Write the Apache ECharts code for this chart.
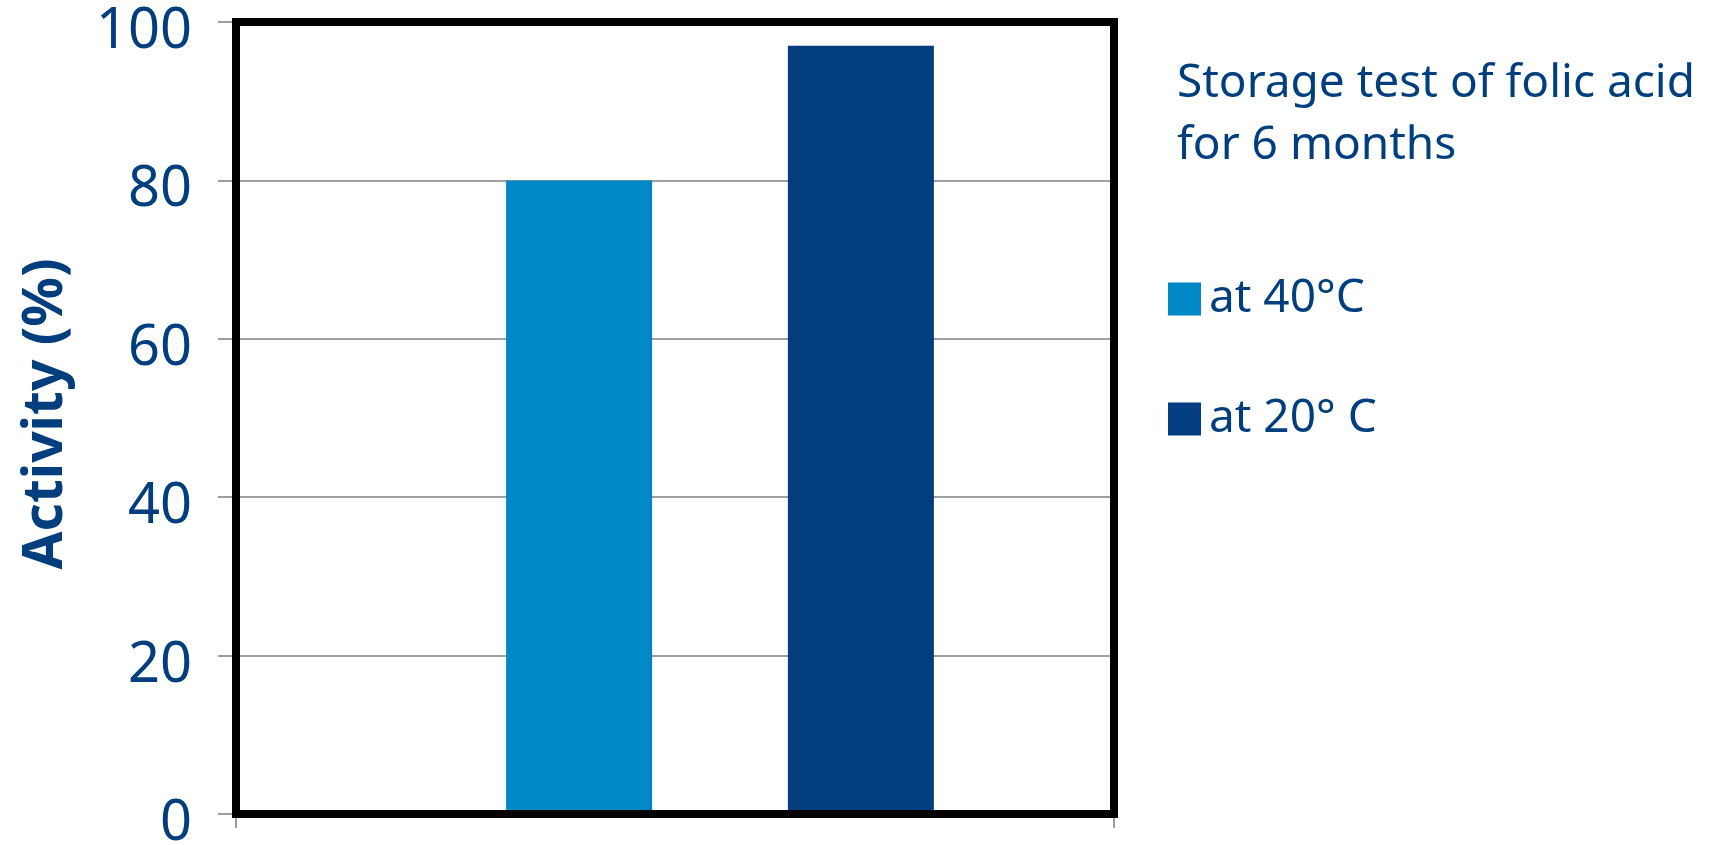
<!DOCTYPE html>
<html>
<head>
<meta charset="utf-8">
<script src="https://cdn.jsdelivr.net/npm/echarts@6/dist/echarts.min.js"></script>
<style>
  html, body { margin: 0; padding: 0; background: #ffffff; }
  #chart { width: 1712px; height: 845px; }
</style>
</head>
<body>
<div id="chart"></div>
<script>
// Folic acid activity after 6 months of storage
const categories = ['6 months'];
const seriesNames = ['at 40°C', 'at 20° C'];
const activity40 = [80];
const activity20 = [97];
const yTicks = { min: 0, max: 100, interval: 20 };
const titleLines = ['Storage test of folic acid', 'for 6 months'];

const textBlue = '#003E7E';
const lightBlue = '#0087C5';
const darkBlue = '#023D80';
const font = 'Noto Sans';

const chart = echarts.init(document.getElementById('chart'));

chart.setOption({
  backgroundColor: '#ffffff',
  animation: false,
  title: {
    text: titleLines.join('\n'),
    left: 1177,
    top: 53,
    padding: 0,
    textStyle: {
      color: textBlue,
      fontFamily: font,
      fontWeight: 'normal',
      fontSize: 46,
      lineHeight: 62
    }
  },
  legend: {
    orient: 'vertical',
    left: 1168,
    top: 276,
    padding: 0,
    itemWidth: 33,
    itemHeight: 33,
    itemGap: 74,
    icon: 'rect',
    data: seriesNames,
    textStyle: {
      color: textBlue,
      fontFamily: font,
      fontSize: 46,
      padding: [0, 0, 0, 3]
    }
  },
  grid: [
    // frame, gridlines and ticks
    {
      left: 236, right: 1712 - 1114, top: 22, bottom: 845 - 814,
      outerBoundsMode: 'none',
      show: true, borderColor: '#000000', borderWidth: 8,
      backgroundColor: 'transparent', z: 5
    },
    // bar placement
    {
      left: 326, right: 1712 - 1114, top: 22, bottom: 845 - 814,
      outerBoundsMode: 'none'
    }
  ],
  xAxis: [
    {
      type: 'category', gridIndex: 0, data: categories,
      boundaryGap: true,
      axisLine: { show: false },
      axisTick: { show: true, length: 14, lineStyle: { color: '#7f7f7f', width: 1.5 } },
      axisLabel: { show: false },
      splitLine: { show: false }
    },
    {
      type: 'category', gridIndex: 1, data: categories,
      axisLine: { show: false }, axisTick: { show: false },
      axisLabel: { show: false }, splitLine: { show: false }
    }
  ],
  yAxis: [
    {
      type: 'value', gridIndex: 0,
      min: yTicks.min, max: yTicks.max, interval: yTicks.interval,
      name: 'Activity (%)',
      nameLocation: 'middle',
      nameGap: 162,
      nameTextStyle: {
        color: textBlue, fontFamily: font, fontWeight: 'bold', fontSize: 55,
        padding: [0, 0, 0, 8]
      },
      axisLine: { show: false },
      axisTick: { show: true, length: 18, lineStyle: { color: '#7f7f7f', width: 1.5 } },
      axisLabel: {
        color: textBlue, fontFamily: font, fontSize: 56, margin: 44,
        verticalAlign: 'top', lineHeight: 20
      },
      splitLine: { show: true, lineStyle: { color: '#808080', width: 1.5 } }
    },
    {
      type: 'value', gridIndex: 1,
      min: yTicks.min, max: yTicks.max, interval: yTicks.interval,
      axisLine: { show: false }, axisTick: { show: false },
      axisLabel: { show: false }, splitLine: { show: false }
    }
  ],
  series: [
    {
      name: seriesNames[0], type: 'bar', xAxisIndex: 1, yAxisIndex: 1,
      data: activity40, barWidth: 146, barGap: '93%',
      itemStyle: { color: lightBlue }, z: 2
    },
    {
      name: seriesNames[1], type: 'bar', xAxisIndex: 1, yAxisIndex: 1,
      data: activity20, barWidth: 146, barGap: '93%',
      itemStyle: { color: darkBlue }, z: 2
    }
  ]
});
</script>
</body>
</html>
